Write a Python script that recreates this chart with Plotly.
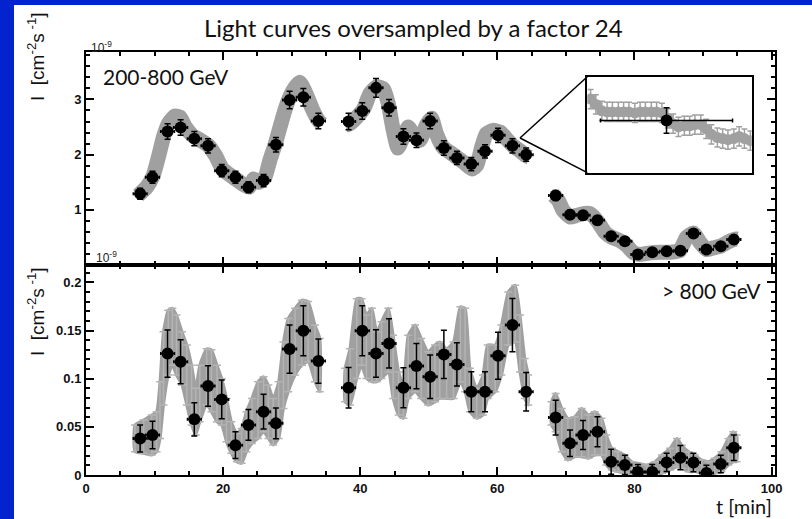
import plotly.graph_objects as go

# ---------------- data ----------------
# bin times [min]
t_bins = [7.9, 9.7, 11.9, 13.8, 15.8, 17.8, 19.8, 21.8, 23.7, 25.9, 27.7, 29.7, 31.7, 33.9,
          38.3, 40.3, 42.3, 44.2, 46.3, 48.2, 50.2, 52.2, 54.1, 56.2, 58.2, 60.1, 62.2, 64.2,
          68.5, 70.6, 72.5, 74.6, 76.6, 78.6, 80.5, 82.6, 84.7, 86.7, 88.6, 90.5, 92.6, 94.5]
t_halfbin = [1.0] * len(t_bins)

# 200-800 GeV flux, units of 1e-9 cm^-2 s^-1
flux_low = [1.29, 1.59, 2.42, 2.49, 2.29, 2.16, 1.71, 1.59, 1.41, 1.53, 2.18, 2.99, 3.04, 2.61,
            2.60, 2.79, 3.21, 2.85, 2.33, 2.26, 2.61, 2.12, 1.94, 1.83, 2.06, 2.35, 2.16, 2.00,
            1.26, 0.91, 0.90, 0.81, 0.52, 0.43, 0.19, 0.23, 0.25, 0.26, 0.57, 0.28, 0.34, 0.46]
flux_low_err = [0.10, 0.11, 0.14, 0.14, 0.13, 0.13, 0.11, 0.11, 0.10, 0.11, 0.13, 0.16, 0.16, 0.14,
                0.15, 0.15, 0.17, 0.15, 0.14, 0.13, 0.14, 0.13, 0.12, 0.12, 0.12, 0.13, 0.13, 0.12,
                0.09, 0.08, 0.08, 0.08, 0.07, 0.06, 0.05, 0.05, 0.05, 0.05, 0.07, 0.05, 0.06, 0.06]

# > 800 GeV flux, units of 1e-9 cm^-2 s^-1
flux_high = [0.038, 0.0415, 0.126, 0.1175, 0.0578, 0.0923, 0.0785, 0.031, 0.052, 0.0657, 0.0536, 0.1307, 0.1497, 0.1183,
             0.0906, 0.1497, 0.1262, 0.1366, 0.0906, 0.1131, 0.102, 0.1252, 0.1148, 0.0864, 0.0864, 0.1238, 0.1556, 0.0864,
             0.0596, 0.0329, 0.0415, 0.0449, 0.0138, 0.0104, 0.003, 0.003, 0.0131, 0.018, 0.013, 0.002, 0.0114, 0.0283]
flux_high_err = [0.014, 0.0143, 0.0245, 0.0228, 0.0173, 0.021, 0.020, 0.014, 0.016, 0.018, 0.016, 0.025, 0.026, 0.023,
                 0.021, 0.026, 0.0247, 0.0256, 0.0207, 0.0235, 0.0225, 0.025, 0.0225, 0.0207, 0.0207, 0.0245, 0.0277, 0.020,
                 0.018, 0.0138, 0.015, 0.0156, 0.013, 0.010, 0.008, 0.008, 0.0095, 0.0125, 0.0095, 0.008, 0.009, 0.0133]

# oversampled curve, 200-800 GeV (None separates observation runs)
os_low_t = [7.6, 8.85, 9.8, 10.55, 11.3, 12.0, 13.0, 13.7, 14.5, 15.5, 16.7, 17.9, 18.9, 19.9, 20.9, 21.8,
            22.8, 23.8, 24.5, 25.2, 26.1, 26.8, 27.6, 28.3, 29.0, 29.7, 30.5, 31.2, 32.0, 33.0, 33.9, 34.4, None,
            37.8, 38.5, 39.5, 40.5, 41.4, 42.4, 43.4, 44.1, 44.8, 45.5, 46.3, 47.0, 47.8, 48.7, 49.7, 50.4,
            51.1, 52.1, 53.1, 54.1, 55.1, 56.3, 57.0, 57.7, 58.4, 59.4, 60.4, 61.3, 62.3, 63.3, 64.2, 64.7, None,
            68.2, 68.9, 69.6, 70.6, 71.6, 72.5, 73.5, 74.7, 75.7, 76.7, 77.9, 78.9, 79.8, 80.8, 82.3, 83.7,
            85.2, 86.6, 87.6, 88.6, 89.5, 90.5, 91.5, 92.7, 93.7, 94.7, 95.1]
os_low_v = [1.26, 1.41, 1.62, 1.95, 2.32, 2.56, 2.70, 2.68, 2.50, 2.35, 2.26, 2.16, 1.98, 1.74, 1.64, 1.56,
            1.47, 1.41, 1.56, 1.50, 1.59, 1.89, 2.19, 2.50, 2.80, 3.04, 3.22, 3.31, 3.13, 2.83, 2.62, 2.56, None,
            2.53, 2.56, 2.68, 2.83, 3.10, 3.23, 3.19, 2.92, 2.45, 2.12, 2.33, 2.50, 2.36, 2.26, 2.55, 2.66,
            2.38, 2.13, 2.04, 1.95, 1.86, 1.74, 1.81, 2.13, 2.38, 2.44, 2.41, 2.29, 2.16, 2.07, 1.98, 1.95, None,
            1.26, 1.17, 0.99, 0.87, 0.90, 0.93, 0.93, 0.78, 0.59, 0.50, 0.44, 0.35, 0.23, 0.19, 0.22, 0.23,
            0.23, 0.26, 0.50, 0.58, 0.42, 0.28, 0.31, 0.35, 0.42, 0.47, 0.47]

# oversampled curve, > 800 GeV: envelope of the grey error bars
os_high_t = [7.15, 8.4, 9.6, 10.3, 10.8, 11.3, 12.0, 12.6, 13.2, 14.0, 14.7, 15.4, 16.0, 16.6, 17.6, 18.3,
             19.1, 19.8, 20.5, 21.2, 22.0, 22.7, 23.4, 24.2, 25.1, 25.9, 26.6, 27.3, 28.1, 28.8, 29.5, 30.5,
             31.5, 32.4, 33.4, 34.1, None,
             37.8, 38.5, 39.5, 40.2, 40.9, 41.7, 42.4, 43.1, 44.1, 44.8, 45.6, 46.3, 47.0, 48.0, 48.9, 49.9,
             50.9, 51.6, 52.6, 53.6, 54.6, 55.3, 56.0, 57.0, 57.9, 58.6, 59.7, 60.6, 61.6, 62.6, 63.3, 64.0, 64.5, None,
             67.9, 68.5, 69.4, 70.3, 71.3, 72.3, 73.3, 74.2, 75.2, 75.9, 76.7, 77.6, 78.6, 79.6, 80.6, 81.8,
             83.0, 84.0, 85.2, 86.2, 86.9, 87.9, 88.8, 89.8, 90.8, 91.7, 92.7, 93.7, 94.4, 94.9]
os_high_hi = [0.0519, 0.057, 0.0622, 0.0657, 0.0968, 0.1487, 0.171, 0.173, 0.166, 0.1487, 0.135, 0.114, 0.09, 0.114, 0.131, 0.13,
              0.114, 0.100, 0.0795, 0.0553, 0.0432, 0.0484, 0.0657, 0.0795, 0.0968, 0.102, 0.0934, 0.0795, 0.0968, 0.138, 0.1625, 0.173,
              0.1815, 0.180, 0.1556, 0.1418, None,
              0.1107, 0.131, 0.183, 0.183, 0.166, 0.173, 0.1487, 0.159, 0.173, 0.145, 0.107, 0.0934, 0.145, 0.1556, 0.1418, 0.128,
              0.135, 0.138, 0.131, 0.138, 0.1746, 0.173, 0.1107, 0.09, 0.1037, 0.135, 0.135, 0.1556, 0.19, 0.197, 0.166, 0.121, 0.1037, None,
              0.076, 0.0847, 0.069, 0.0588, 0.0605, 0.069, 0.0622, 0.0657, 0.0588, 0.0415, 0.0277, 0.0242, 0.0207, 0.0138, 0.012, 0.0104,
              0.0138, 0.0207, 0.0277, 0.038, 0.031, 0.0242, 0.0207, 0.0156, 0.0138, 0.0173, 0.0242, 0.038, 0.045, 0.0415]
os_high_lo = [0.0242, 0.0225, 0.0207, 0.0242, 0.038, 0.0726, 0.1037, 0.114, 0.1037, 0.0934, 0.0726, 0.0519, 0.0415, 0.0553, 0.0726, 0.0657,
              0.0553, 0.0519, 0.0346, 0.0225, 0.0138, 0.0121, 0.0242, 0.0328, 0.038, 0.045, 0.038, 0.0311, 0.038, 0.069, 0.0864, 0.1037,
              0.114, 0.1176, 0.0968, 0.0864, None,
              0.076, 0.0726, 0.1003, 0.114, 0.1003, 0.0968, 0.0968, 0.1003, 0.107, 0.0795, 0.0622, 0.0588, 0.0795, 0.0864, 0.0795, 0.0726,
              0.076, 0.0795, 0.0795, 0.0795, 0.0968, 0.0864, 0.0657, 0.0588, 0.0622, 0.0795, 0.0864, 0.1037, 0.135, 0.138, 0.107, 0.0795, 0.0726, None,
              0.0519, 0.045, 0.0242, 0.0156, 0.019, 0.019, 0.0173, 0.0207, 0.0207, 0.0104, 0.0052, 0.0035, 0.0017, 0.0, 0.0, 0.0,
              0.0, 0.0017, 0.0052, 0.0086, 0.0069, 0.0035, 0.0035, 0.0017, 0.0, 0.0017, 0.0035, 0.0104, 0.0138, 0.0138]

# inset: one 2-min bin and its 24x oversampled points
inset_t = [61.05, 61.13, 61.22, 61.30, 61.38, 61.47, 61.55, 61.63, 61.72, 61.80, 61.88, 61.97, 62.05, 62.13, 62.22,
           62.30, 62.38, 62.47, 62.55, 62.63, 62.72, 62.80, 62.88, 62.97, 63.05, 63.13, 63.22, 63.30, 63.38, 63.47]
inset_v = [2.36, 2.31, 2.25, 2.24, 2.24, 2.24, 2.24, 2.24, 2.23, 2.24, 2.24, 2.24, 2.24, 2.23, 2.18,
           2.13, 2.10, 2.11, 2.11, 2.12, 2.12, 2.08, 2.03, 2.00, 1.99, 1.98, 1.99, 2.01, 1.99, 1.97]
inset_err = [0.09] * len(inset_t)
inset_bin_t = [62.2]
inset_bin_v = [2.16]
inset_bin_terr = [1.0]
inset_bin_verr = [0.12]

x_ticks = [0, 20, 40, 60, 80, 100]
y_low_ticks = [1, 2, 3]
y_high_ticks = [0, 0.05, 0.1, 0.15, 0.2]
y_high_ticktext = ["0", "0.05", "0.1", "0.15", "0.2"]

# ---------------- styling ----------------
BLUE = "#0323cf"
GREY = "#a0a0a0"
GREY_LIGHT = "#b4b4b4"
TICKFONT = dict(family="Liberation Sans", size=13, color="#111111", weight="bold")
HUMAN = "Lato"

W, H = 812, 519
ML, MR, MT, MB = 86, 37, 52, 44
PW, PH = W - ML - MR, H - MT - MB


def px_x(p):
    return (p - ML) / PW


def px_y(p):
    return (H - MB - p) / PH


split = px_y(265)

fig = go.Figure()

# top panel: oversampled band (thick line)
fig.add_trace(go.Scatter(x=os_low_t, y=os_low_v, mode="lines",
                         line=dict(color=GREY, width=15, shape="spline", smoothing=0.5),
                         connectgaps=False, hoverinfo="skip", showlegend=False,
                         xaxis="x", yaxis="y"))
# top panel: binned points
fig.add_trace(go.Scatter(x=t_bins, y=flux_low, mode="markers",
                         marker=dict(color="black", size=12, symbol="circle"),
                         error_x=dict(type="data", array=t_halfbin, color="black", thickness=1.5, width=1.5),
                         error_y=dict(type="data", array=flux_low_err, color="black", thickness=1.5, width=3),
                         showlegend=False, xaxis="x", yaxis="y"))

# bottom panel: oversampled band as filled envelope
poly_x, poly_y = [], []
mid_t, mid_v, mid_e = [], [], []
seg_t, seg_hi, seg_lo = [], [], []
for tt, hh, ll in list(zip(os_high_t, os_high_hi, os_high_lo)) + [(None, None, None)]:
    if tt is None:
        if seg_t:
            poly_x += seg_t + seg_t[::-1] + [seg_t[0], None]
            poly_y += seg_hi + seg_lo[::-1] + [seg_hi[0], None]
        seg_t, seg_hi, seg_lo = [], [], []
        continue
    seg_t.append(tt)
    seg_hi.append(hh)
    seg_lo.append(ll)
    mid_t.append(tt)
    mid_v.append((hh + ll) / 2)
    mid_e.append((hh - ll) / 2)

fig.add_trace(go.Scatter(x=poly_x, y=poly_y, mode="lines", fill="toself",
                         fillcolor=GREY, line=dict(color=GREY, width=3, shape="spline", smoothing=0.5),
                         hoverinfo="skip", showlegend=False, xaxis="x2", yaxis="y2"))
fig.add_trace(go.Scatter(x=mid_t, y=mid_v, mode="markers",
                         marker=dict(size=1, color="rgba(0,0,0,0)"),
                         error_y=dict(type="data", array=mid_e, color=GREY_LIGHT, thickness=1.5, width=4),
                         hoverinfo="skip", showlegend=False, xaxis="x2", yaxis="y2"))
# bottom panel: binned points
fig.add_trace(go.Scatter(x=t_bins, y=flux_high, mode="markers",
                         marker=dict(color="black", size=12, symbol="circle"),
                         error_x=dict(type="data", array=t_halfbin, color="black", thickness=1.5, width=1.5),
                         error_y=dict(type="data", array=flux_high_err, color="black", thickness=1.5, width=3),
                         showlegend=False, xaxis="x2", yaxis="y2"))

# inset
fig.add_trace(go.Scatter(x=inset_t, y=inset_v, mode="markers",
                         marker=dict(color=GREY, size=11, symbol="circle"),
                         error_y=dict(type="data", array=inset_err, color=GREY, thickness=1.5, width=3),
                         showlegend=False, xaxis="x3", yaxis="y3"))
fig.add_trace(go.Scatter(x=inset_bin_t, y=inset_bin_v, mode="markers",
                         marker=dict(color="black", size=12),
                         error_x=dict(type="data", array=inset_bin_terr, color="black", thickness=1.5, width=2),
                         error_y=dict(type="data", array=inset_bin_verr, color="black", thickness=1.5, width=3),
                         showlegend=False, xaxis="x3", yaxis="y3"))

axis_common = dict(showline=True, linecolor="black", linewidth=2, mirror="ticks",
                   ticks="inside", tickcolor="black", tickwidth=1.5,
                   showgrid=False, zeroline=False)

fig.update_layout(
    width=W, height=H,
    margin=dict(l=ML, r=MR, t=MT, b=MB, pad=0),
    paper_bgcolor="white", plot_bgcolor="white",
    showlegend=False,
    xaxis=dict(**axis_common, domain=[0, 1], range=[0, 100.5], anchor="y",
               tickvals=x_ticks, ticklen=8, showticklabels=False,
               minor=dict(tickmode="linear", tick0=0, dtick=5, ticks="inside", ticklen=4,
                          tickwidth=1.5, tickcolor="black")),
    yaxis=dict(**axis_common, domain=[split, 1], range=[0, 3.86], anchor="x",
               tickvals=y_low_ticks, ticktext=[str(v) for v in y_low_ticks], ticklen=8,
               tickfont=TICKFONT,
               minor=dict(tickmode="linear", tick0=0, dtick=0.2, ticks="inside", ticklen=4,
                          tickwidth=1.5, tickcolor="black")),
    xaxis2=dict(**axis_common, domain=[0, 1], range=[0, 100.5], anchor="y2",
                tickvals=x_ticks, ticktext=[str(v) for v in x_ticks], ticklen=8,
                tickfont=TICKFONT,
                minor=dict(tickmode="linear", tick0=0, dtick=5, ticks="inside", ticklen=4,
                           tickwidth=1.5, tickcolor="black")),
    yaxis2=dict(**axis_common, domain=[0, split], range=[0, 0.218], anchor="x2",
                tickvals=y_high_ticks, ticktext=y_high_ticktext, ticklen=8,
                tickfont=TICKFONT,
                minor=dict(tickmode="linear", tick0=0, dtick=0.01, ticks="inside", ticklen=4,
                           tickwidth=1.5, tickcolor="black")),
    xaxis3=dict(domain=[px_x(587.3), px_x(751.7)], range=[61.0, 63.49], anchor="y3",
                showline=True, linecolor="black", linewidth=1.5, mirror=True,
                showticklabels=False, ticks="", showgrid=False, zeroline=False),
    yaxis3=dict(domain=[px_y(172.7), px_y(76.7)], range=[1.67, 2.57], anchor="x3",
                showline=True, linecolor="black", linewidth=1.5, mirror=True,
                showticklabels=False, ticks="", showgrid=False, zeroline=False),
)

shapes = [
    # slide background strips
    dict(type="rect", xref="paper", yref="paper", x0=px_x(0), x1=px_x(W), y0=px_y(5), y1=px_y(0),
         fillcolor=BLUE, line=dict(width=0), layer="above"),
    dict(type="rect", xref="paper", yref="paper", x0=px_x(0), x1=px_x(14), y0=px_y(H), y1=px_y(0),
         fillcolor=BLUE, line=dict(width=0), layer="above"),
    # zoom lines to the inset
    dict(type="line", xref="paper", yref="paper", x0=px_x(520), y0=px_y(138), x1=px_x(587.3), y1=px_y(76.7),
         line=dict(color="black", width=1.5)),
    dict(type="line", xref="paper", yref="paper", x0=px_x(520), y0=px_y(138), x1=px_x(587.3), y1=px_y(172.7),
         line=dict(color="black", width=1.5)),
]
fig.update_layout(shapes=shapes)

ann = [
    dict(text="Light curves oversampled by a factor 24", x=px_x(413), y=px_y(27),
         font=dict(family=HUMAN, size=24, color="#111111"), xanchor="center", yanchor="middle"),
    dict(text="200-800 GeV", x=px_x(101), y=px_y(77),
         font=dict(family=HUMAN, size=21, color="#111111"), xanchor="left", yanchor="middle"),
    dict(text="> 800 GeV", x=px_x(763), y=px_y(290),
         font=dict(family=HUMAN, size=21, color="#111111"), xanchor="right", yanchor="middle"),
    dict(text="t [min]", x=px_x(774), y=px_y(506),
         font=dict(family=HUMAN, size=20, color="#111111"), xanchor="right", yanchor="middle"),
    dict(text="10<sup>-9</sup>", x=px_x(89), y=px_y(47),
         font=dict(family="Liberation Sans", size=12, color="#222222"), xanchor="left", yanchor="middle"),
    dict(text="10<sup>-9</sup>", x=px_x(94), y=px_y(257),
         font=dict(family="Liberation Sans", size=12, color="#222222"), xanchor="left", yanchor="middle"),
    dict(text="I  [cm<sup>-2</sup>s<sup> -1</sup>]", x=px_x(36), y=px_y(57), textangle=-90,
         font=dict(family="Liberation Sans", size=19, color="#111111"), xanchor="center", yanchor="middle"),
    dict(text="I  [cm<sup>-2</sup>s<sup> -1</sup>]", x=px_x(36), y=px_y(312), textangle=-90,
         font=dict(family="Liberation Sans", size=19, color="#111111"), xanchor="center", yanchor="middle"),
]
for a in ann:
    a.update(xref="paper", yref="paper", showarrow=False)
fig.update_layout(annotations=ann)

fig.write_html("out.html", config={"displayModeBar": False},
               post_script="document.body.style.margin='0px';document.body.style.background='white';")
